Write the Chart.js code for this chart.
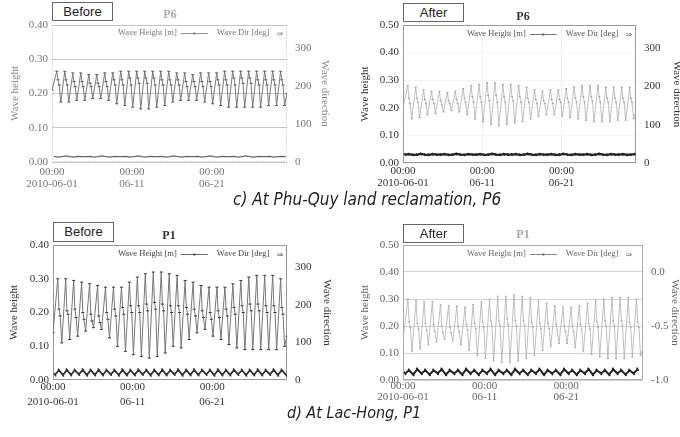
<!DOCTYPE html>
<html><head><meta charset="utf-8">
<script src="https://cdn.jsdelivr.net/npm/chart.js@4.4.1/dist/chart.umd.min.js"></script>
<style>
html,body{margin:0;padding:0;width:680px;height:437px;overflow:hidden;background:#fff;position:relative;}
canvas{position:absolute;}
.tag{position:absolute;box-sizing:border-box;border:1px solid #666;background:#fff;font:13px "Liberation Sans",Arial,sans-serif;color:#222;text-align:center;z-index:2;}
.cap{position:absolute;white-space:nowrap;font-family:"DejaVu Sans Condensed","DejaVu Sans",sans-serif;font-style:italic;font-stretch:condensed;color:#222;z-index:2;line-height:20px;}
</style></head><body>
<canvas id="c1" width="340" height="200" style="left:0;top:0"></canvas>
<canvas id="c2" width="350" height="200" style="left:340px;top:0"></canvas>
<canvas id="c3" width="340" height="200" style="left:0;top:218px"></canvas>
<canvas id="c4" width="350" height="200" style="left:340px;top:218px"></canvas>
<div class="tag" style="left:52px;top:2px;width:61px;height:19px;line-height:17px">Before</div>
<div class="tag" style="left:403px;top:3px;width:61px;height:19px;line-height:17px">After</div>
<div class="tag" style="left:53px;top:222px;width:61px;height:20px;line-height:18px">Before</div>
<div class="tag" style="left:403px;top:224px;width:61px;height:19px;line-height:17px">After</div>
<div class="cap" style="left:233px;top:189px;font-size:17px">c) At Phu-Quy land reclamation, P6</div>
<div class="cap" style="left:287px;top:403px;font-size:16px">d) At Lac-Hong, P1</div>
<script>
// ---- axis / tick data ----
const xEndDay = 29.4;
const xTickDays = [0, 10, 20];
const xTickLabels = [["00:00","2010-06-01"],["00:00","06-11"],["00:00","06-21"]];
const heightTicks040 = [0, 0.1, 0.2, 0.3, 0.4];
const heightTicks050 = [0, 0.1, 0.2, 0.3, 0.4, 0.5];
const dirTicksDeg = [0, 100, 200, 300];
const dirTicksP1After = [-1.0, -0.5, 0.0];
// sample times within each daily cycle: peak, plateau A, plateau B, trough
const cycleOffsets = [0.6, 0.75, 0.9, 1.1];

// ---- P6 Before ----
const p6bStart = 0.21, p6bEnd = 0.20;
const p6bPeak = [0.265,0.265,0.26,0.26,0.255,0.255,0.26,0.26,0.265,0.265,0.265,0.265,0.265,0.265,0.265,0.26,0.26,0.255,0.26,0.26,0.26,0.265,0.265,0.265,0.265,0.265,0.265,0.265,0.265];
const p6bMidA = [0.24,0.24,0.235,0.235,0.23,0.23,0.235,0.24,0.24,0.245,0.245,0.245,0.245,0.24,0.24,0.24,0.235,0.235,0.235,0.235,0.24,0.24,0.245,0.245,0.245,0.24,0.24,0.24,0.24];
const p6bMidB = [0.225,0.225,0.22,0.22,0.22,0.22,0.22,0.225,0.225,0.225,0.23,0.23,0.225,0.225,0.225,0.225,0.22,0.22,0.22,0.22,0.225,0.225,0.225,0.23,0.23,0.225,0.225,0.225,0.225];
const p6bTrough = [0.175,0.175,0.18,0.18,0.185,0.185,0.18,0.17,0.165,0.16,0.155,0.155,0.16,0.165,0.175,0.18,0.18,0.18,0.175,0.17,0.165,0.16,0.16,0.16,0.16,0.16,0.165,0.165,0.165];
const p6bDir = [15,13,14,16,14,13,15,14,14,15,13,14,16,14,13,15,14,14,15,13,14,16,14,13,15,14,14,15,13,14,16,14,13,15,14,14,15,13,14,16,14,13,15,14,14,15,13,14,16,14,13,15,14,14,15,13,14,15,14];

// ---- P6 After ----
const p6aStart = 0.20, p6aEnd = 0.19;
const p6aPeak = [0.28,0.275,0.265,0.26,0.26,0.255,0.26,0.27,0.28,0.285,0.29,0.29,0.285,0.285,0.28,0.275,0.265,0.26,0.265,0.265,0.27,0.275,0.28,0.28,0.28,0.275,0.275,0.275,0.275];
const p6aMidA = [0.235,0.235,0.23,0.23,0.225,0.225,0.23,0.235,0.24,0.24,0.245,0.245,0.24,0.24,0.24,0.235,0.23,0.225,0.23,0.23,0.235,0.235,0.24,0.24,0.24,0.235,0.235,0.235,0.235];
const p6aMidB = [0.215,0.22,0.215,0.215,0.21,0.215,0.215,0.22,0.22,0.22,0.225,0.22,0.22,0.225,0.22,0.22,0.215,0.215,0.215,0.22,0.22,0.22,0.22,0.225,0.22,0.22,0.22,0.22,0.22];
const p6aTrough = [0.16,0.165,0.175,0.18,0.185,0.19,0.185,0.175,0.16,0.15,0.14,0.135,0.14,0.145,0.15,0.16,0.17,0.175,0.175,0.17,0.165,0.16,0.155,0.15,0.15,0.15,0.155,0.155,0.16];
const p6aDir = [22,23,21,22,24,22,21,23,22,22,23,21,22,24,22,21,23,22,22,23,21,22,24,22,21,23,22,22,23,21,22,24,22,21,23,22,22,23,21,22,24,22,21,23,22,22,23,21,22,24,22,21,23,22,22,23,21,22,23];

// ---- P1 Before ----
const p1bStart = 0.14, p1bEnd = 0.13;
const p1bPeak = [0.30,0.30,0.295,0.29,0.285,0.28,0.275,0.275,0.275,0.29,0.305,0.315,0.32,0.32,0.315,0.31,0.295,0.29,0.28,0.275,0.275,0.275,0.285,0.295,0.305,0.31,0.31,0.31,0.30];
const p1bMidA = [0.21,0.205,0.21,0.20,0.195,0.19,0.20,0.21,0.215,0.22,0.22,0.225,0.23,0.225,0.22,0.22,0.215,0.21,0.205,0.20,0.205,0.21,0.215,0.22,0.225,0.225,0.22,0.22,0.215];
const p1bMidB = [0.19,0.195,0.185,0.18,0.175,0.17,0.18,0.19,0.195,0.20,0.20,0.205,0.21,0.205,0.20,0.20,0.195,0.19,0.185,0.18,0.185,0.19,0.195,0.20,0.205,0.205,0.20,0.20,0.195];
const p1bTrough = [0.11,0.12,0.13,0.145,0.155,0.15,0.125,0.10,0.085,0.075,0.07,0.065,0.07,0.08,0.10,0.095,0.12,0.14,0.15,0.13,0.12,0.105,0.095,0.09,0.09,0.09,0.09,0.09,0.10];
const p1bDir = [14,26,13,27,14,26,15,27,13,26,14,27,14,26,15,26,13,27,14,26,14,27,15,26,13,26,14,27,14,26,15,27,13,26,14,27,14,26,15,26,13,27,14,26,14,27,15,26,13,26,14,27,14,26,15,27,13,26,14];

// ---- P1 After ----
const p1aStart = 0.15, p1aEnd = 0.12;
const p1aPeak = [0.30,0.295,0.29,0.29,0.28,0.275,0.275,0.27,0.28,0.29,0.30,0.31,0.31,0.315,0.31,0.305,0.295,0.285,0.275,0.27,0.27,0.275,0.285,0.295,0.30,0.305,0.305,0.305,0.30];
const p1aMidA = [0.215,0.21,0.21,0.205,0.20,0.195,0.20,0.205,0.21,0.215,0.22,0.22,0.225,0.22,0.22,0.215,0.21,0.21,0.205,0.20,0.20,0.205,0.21,0.215,0.22,0.22,0.22,0.215,0.215];
const p1aMidB = [0.195,0.19,0.185,0.18,0.175,0.175,0.18,0.185,0.19,0.195,0.20,0.20,0.205,0.20,0.20,0.195,0.19,0.19,0.185,0.18,0.18,0.185,0.19,0.195,0.20,0.20,0.20,0.195,0.195];
const p1aTrough = [0.105,0.115,0.13,0.14,0.15,0.145,0.13,0.11,0.09,0.08,0.07,0.065,0.065,0.07,0.08,0.09,0.11,0.125,0.135,0.135,0.12,0.105,0.095,0.085,0.08,0.08,0.08,0.085,0.09];
const p1aDir = [-0.94,-0.91,-0.95,-0.90,-0.94,-0.91,-0.95,-0.91,-0.94,-0.90,-0.95,-0.91,-0.94,-0.91,-0.95,-0.90,-0.94,-0.91,-0.95,-0.91,-0.94,-0.90,-0.95,-0.91,-0.94,-0.91,-0.95,-0.90,-0.94,-0.91,-0.95,-0.91,-0.94,-0.90,-0.95,-0.91,-0.94,-0.91,-0.95,-0.90,-0.94,-0.91,-0.95,-0.91,-0.94,-0.90,-0.95,-0.91,-0.94,-0.91,-0.95,-0.90,-0.94,-0.91,-0.95,-0.91,-0.94,-0.90];

function heightSeries(start, peaks, midA, midB, troughs, end) {
  const pts = [{x: 0, y: start}];
  for (let d = 0; d < peaks.length; d++) {
    const vals = [peaks[d], midA[d], midB[d], troughs[d]];
    for (let k = 0; k < 4; k++) pts.push({x: d + cycleOffsets[k], y: vals[k]});
  }
  pts.push({x: xEndDay, y: end});
  return pts;
}
function dirSeries(vals) {
  return vals.map((v, j) => ({x: 0.25 + 0.5 * j, y: v}));
}

function makeDecor(p) {
  return {
    id: 'decor_' + p.id,
    beforeDatasetsDraw(chart) {
      const ctx = chart.ctx, a = chart.chartArea;
      ctx.save();
      ctx.strokeStyle = p.frame; ctx.lineWidth = 1;
      ctx.setLineDash(p.frameDash || []);
      ctx.strokeRect(Math.round(a.left) + 0.5, Math.round(a.top) + 0.5, Math.round(a.right - a.left) - 1, Math.round(a.bottom - a.top) - 1);
      ctx.restore();
    },
    afterDraw(chart) {
      const ctx = chart.ctx;
      ctx.save();
      ctx.font = 'bold 12px "Liberation Serif", serif';
      ctx.fillStyle = p.titleColor; ctx.textAlign = 'center'; ctx.textBaseline = 'middle';
      ctx.fillText(p.title, p.titleX, p.titleY);
      const ds = chart.data.datasets;
      ctx.font = '8.5px "Liberation Serif", serif';
      ctx.fillStyle = p.legendColor; ctx.strokeStyle = p.legendColor; ctx.textAlign = 'left';
      let x = p.legendX; const y = p.legendY;
      ctx.fillText(ds[0].label, x, y); x += ctx.measureText(ds[0].label).width + 4;
      ctx.lineWidth = 0.8; ctx.beginPath(); ctx.moveTo(x, y + 0.5); ctx.lineTo(x + 27, y + 0.5); ctx.stroke();
      ctx.fillRect(x + 12.5, y - 0.5, 2, 2);
      x += 27 + 9;
      ctx.fillText(ds[1].label, x, y); x += ctx.measureText(ds[1].label).width + 7;
      ctx.font = '8px "DejaVu Sans", sans-serif';
      ctx.fillText('\u21D2', x, y + 0.5);
      ctx.restore();
    }
  };
}

function buildPanel(p) {
  return new Chart(document.getElementById(p.id), {
    type: 'line',
    data: { datasets: [
      { label: 'Wave Height [m]', data: p.height, yAxisID: 'y', borderColor: p.hColor, borderWidth: p.hWidth,
        pointRadius: p.hPointR, pointStyle: 'line', pointBorderColor: p.hPointColor, pointBorderWidth: 1, tension: 0 },
      { label: 'Wave Dir [deg]', data: p.dir, yAxisID: 'y2', borderColor: p.dColor, borderWidth: p.dWidth,
        pointRadius: p.dPointR, pointStyle: 'line', pointRotation: 60, pointBorderColor: p.dColor, pointBorderWidth: 1.5, tension: 0 }
    ]},
    options: {
      responsive: false, animation: false, devicePixelRatio: 1,
      layout: { padding: { top: p.top, left: 0, right: 0, bottom: 0 } },
      plugins: { legend: { display: false }, tooltip: { enabled: false } },
      scales: {
        x: { type: 'linear', min: 0, max: xEndDay,
          afterBuildTicks: s => { s.ticks = xTickDays.map(v => ({value: v})); },
          afterFit: s => { s.height = p.xH; },
          grid: { display: p.xGrid, color: p.xGridColor, drawTicks: false },
          border: { display: false },
          ticks: { padding: p.xPad, color: p.tickColor, maxRotation: 0, autoSkip: false,
            font: { family: 'Liberation Serif', size: 11, lineHeight: p.xLH },
            callback: v => xTickLabels[xTickDays.indexOf(v)] } },
        y: { position: 'left', min: 0, max: p.hMax,
          afterBuildTicks: s => { s.ticks = p.hTicks.map(v => ({value: v})); },
          afterFit: s => { s.width = p.yW; },
          grid: { display: p.yGrid, color: p.yGridColor, drawTicks: false },
          border: { display: false },
          ticks: { padding: 4, color: p.tickColor, font: { family: 'Liberation Serif', size: 11 },
            callback: v => v.toFixed(2) },
          title: { display: true, text: 'Wave height', color: p.titleAxisColor, padding: { top: p.yTitlePad, bottom: 0 },
            font: { family: 'Liberation Serif', size: 11 } } },
        y2: { position: 'right', min: p.dMin, max: p.dMax,
          afterBuildTicks: s => { s.ticks = p.dTicks.map(v => ({value: v})); },
          afterFit: s => { s.width = p.y2W; },
          grid: { drawOnChartArea: false, drawTicks: false },
          border: { display: false },
          ticks: { padding: 8, color: p.tickColor, font: { family: 'Liberation Serif', size: 11 },
            callback: v => p.dFmt(v) },
          title: { display: true, text: 'Wave direction', color: p.titleAxisColor, padding: { top: p.y2TitlePad, bottom: 0 },
            font: { family: 'Liberation Serif', size: 11 } } }
      }
    },
    plugins: [makeDecor(p)]
  });
}

const panels = [
  { id: 'c1', top: 25, xH: 38, yW: 52, y2W: 53, xPad: 4, xLH: 1.1, yTitlePad: 8.4, y2TitlePad: 8.4,
    height: heightSeries(p6bStart, p6bPeak, p6bMidA, p6bMidB, p6bTrough, p6bEnd), dir: dirSeries(p6bDir),
    hMax: 0.40, hTicks: heightTicks040, dMin: 0, dMax: 360, dTicks: dirTicksDeg, dFmt: v => String(v),
    hColor: '#7a7a7a', hWidth: 1, hPointR: 1.5, hPointColor: '#555', dColor: '#666', dWidth: 1.2, dPointR: 0,
    xGrid: false, xGridColor: '#eee', yGrid: true, yGridColor: '#c8c8c8',
    tickColor: '#777', titleAxisColor: '#888', frame: '#bbb', frameDash: [1, 2],
    title: 'P6', titleX: 170, titleY: 15, titleColor: '#aaa', legendX: 118, legendY: 33, legendColor: '#777' },
  { id: 'c2', top: 25, xH: 37, yW: 63, y2W: 54, xPad: 2, xLH: 1.1, yTitlePad: 18.4, y2TitlePad: 6.4,
    height: heightSeries(p6aStart, p6aPeak, p6aMidA, p6aMidB, p6aTrough, p6aEnd), dir: dirSeries(p6aDir),
    hMax: 0.50, hTicks: heightTicks050, dMin: 0, dMax: 360, dTicks: dirTicksDeg, dFmt: v => String(v),
    hColor: '#b0b0b0', hWidth: 0.8, hPointR: 1, hPointColor: '#999', dColor: '#222', dWidth: 2.2, dPointR: 1.5,
    xGrid: true, xGridColor: '#f0f0f0', yGrid: true, yGridColor: '#f3f3f3',
    tickColor: '#333', titleAxisColor: '#333', frame: '#999',
    title: 'P6', titleX: 183, titleY: 17, titleColor: '#333', legendX: 127, legendY: 34, legendColor: '#555' },
  { id: 'c3', top: 27, xH: 38, yW: 53, y2W: 53, xPad: 0, xLH: 1.35, yTitlePad: 7.4, y2TitlePad: 6.4,
    height: heightSeries(p1bStart, p1bPeak, p1bMidA, p1bMidB, p1bTrough, p1bEnd), dir: dirSeries(p1bDir),
    hMax: 0.40, hTicks: heightTicks040, dMin: 0, dMax: 360, dTicks: dirTicksDeg, dFmt: v => String(v),
    hColor: '#777', hWidth: 1, hPointR: 1.5, hPointColor: '#333', dColor: '#333', dWidth: 1.8, dPointR: 1.8,
    xGrid: false, xGridColor: '#eee', yGrid: false, yGridColor: '#eee',
    tickColor: '#333', titleAxisColor: '#333', frame: '#999',
    title: 'P1', titleX: 169, titleY: 18, titleColor: '#333', legendX: 118, legendY: 36, legendColor: '#444' },
  { id: 'c4', top: 27, xH: 38, yW: 63, y2W: 47, xPad: 0, xLH: 1.05, yTitlePad: 18.4, y2TitlePad: 8.4,
    height: heightSeries(p1aStart, p1aPeak, p1aMidA, p1aMidB, p1aTrough, p1aEnd), dir: dirSeries(p1aDir),
    hMax: 0.50, hTicks: heightTicks050, dMin: -1.0, dMax: 0.25, dTicks: dirTicksP1After, dFmt: v => v.toFixed(1),
    hColor: '#b0b0b0', hWidth: 0.8, hPointR: 1, hPointColor: '#aaa', dColor: '#222', dWidth: 2, dPointR: 1.8,
    xGrid: false, xGridColor: '#eee', yGrid: true, yGridColor: '#d4d4d4',
    tickColor: '#666', titleAxisColor: '#666', frame: '#aaa',
    title: 'P1', titleX: 183, titleY: 17, titleColor: '#aaa', legendX: 127, legendY: 36, legendColor: '#666' }
];
panels.forEach(buildPanel);
</script>
</body></html>
